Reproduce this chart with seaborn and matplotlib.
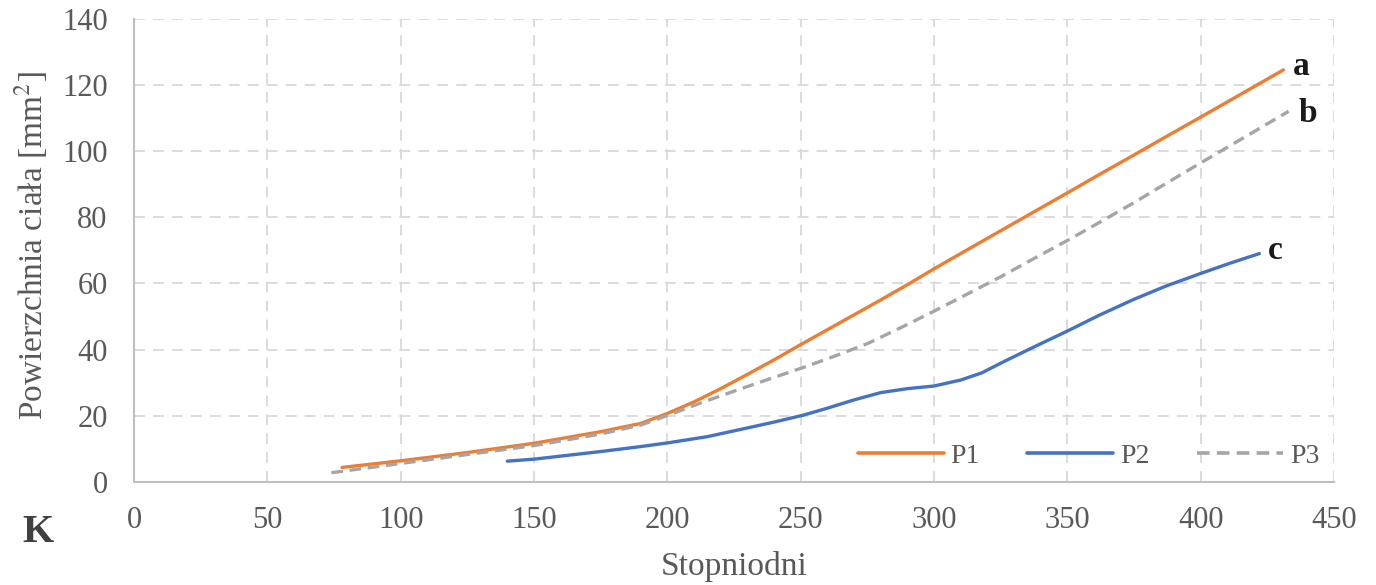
import matplotlib
matplotlib.use("Agg")
import matplotlib.pyplot as plt
import seaborn as sns
import pandas as pd

# ---- data ----
p1_x = [78, 100, 125, 150, 175, 190, 200, 210, 220, 230, 240, 250, 260, 270, 280, 290,
        300, 313, 325, 337, 351, 362, 375, 385, 401, 418, 431]
p1_y = [4.4, 6.4, 8.9, 11.7, 15.2, 17.7, 20.7, 24.2, 28.2, 32.5, 36.9, 41.5, 46.0, 50.5,
        55.0, 59.6, 64.4, 70.4, 75.9, 81.4, 87.8, 92.9, 98.8, 103.4, 110.7, 118.5, 124.5]

p2_x = [140, 150, 175, 190, 200, 215, 227, 240, 251, 260, 270, 280, 290, 300, 310, 318,
        326, 338, 350, 362, 375, 387, 400, 411, 422]
p2_y = [6.3, 6.9, 9.2, 10.7, 11.8, 13.7, 15.8, 18.1, 20.2, 22.3, 24.8, 27.0, 28.2, 29.0,
        30.8, 33.0, 36.3, 41.0, 45.6, 50.4, 55.2, 59.2, 63.0, 66.1, 69.0]

p3_x = [74, 100, 125, 150, 175, 190, 200, 215, 227, 240, 251, 262, 275, 288, 300, 313,
        325, 337, 351, 362, 375, 387, 400, 418, 433]
p3_y = [2.8, 5.6, 8.3, 11.0, 14.5, 17.2, 20.1, 24.6, 28.0, 31.6, 34.6, 37.8, 41.8, 46.8,
        51.6, 57.0, 62.0, 67.3, 73.4, 78.4, 84.4, 90.2, 96.4, 104.9, 112.0]

series_names = ["P1", "P2", "P3"]
end_labels = ["a", "c", "b"]
x_ticks = [0, 50, 100, 150, 200, 250, 300, 350, 400, 450]
y_ticks = [0, 20, 40, 60, 80, 100, 120, 140]
x_label = "Stopniodni"
y_label = "Powierzchnia ciała [mm$^2$]"
panel_label = "K"

colors = {"P1": "#ED7D31", "P2": "#4472C4", "P3": "#A5A5A5"}

df = pd.concat([
    pd.DataFrame({"x": p1_x, "y": p1_y, "series": "P1"}),
    pd.DataFrame({"x": p2_x, "y": p2_y, "series": "P2"}),
    pd.DataFrame({"x": p3_x, "y": p3_y, "series": "P3"}),
], ignore_index=True)

sns.set_theme(style="white")
plt.rcParams["font.family"] = ["Liberation Serif", "DejaVu Serif"]
plt.rcParams["mathtext.fontset"] = "stix"

fig = plt.figure(figsize=(13.76, 5.85), dpi=100)
ax = fig.add_axes([134 / 1376, 1 - 482 / 585, 1200 / 1376, (482 - 18.6) / 585])

sns.lineplot(data=df, x="x", y="y", hue="series", style="series",
             palette=colors, dashes={"P1": "", "P2": "", "P3": (3.5, 2)},
             linewidth=2.4, ax=ax, estimator=None, sort=True)
for ln in ax.get_lines():
    ln.set_solid_capstyle("round")
    ln.set_solid_joinstyle("round")

ax.set_xlim(0, 450)
ax.set_ylim(0, 140)
ax.set_xticks(x_ticks)
ax.set_yticks(y_ticks)

tick_color = "#595959"
ax.tick_params(axis="both", labelsize=22, colors=tick_color, length=0)
ax.tick_params(axis="x", pad=17)
ax.tick_params(axis="y", pad=19)

ax.grid(True, which="major", color="#D9D9D9", linestyle=(0, (6, 4.5)), linewidth=1.3)
for s in ["top", "right"]:
    ax.spines[s].set_visible(False)
for s in ["left", "bottom"]:
    ax.spines[s].set_color("#BFBFBF")
    ax.spines[s].set_linewidth(1.5)

ax.set_xlabel(x_label, fontsize=24, color=tick_color)
ax.set_ylabel(y_label, fontsize=24, color=tick_color)
ax.xaxis.label.set_va("center")
ax.yaxis.label.set_va("center")
ax.xaxis.set_label_coords(0.5, (482 - 566) / 463.4)
ax.yaxis.set_label_coords((31 - 134) / 1200, 0.51)

# end-of-line letters
ends = {"P1": (p1_x[-1], p1_y[-1]), "P2": (p2_x[-1], p2_y[-1]), "P3": (p3_x[-1], p3_y[-1])}
offsets = {"P1": (10, -5), "P2": (9, -5), "P3": (10, -11)}
for name, lab in zip(series_names, end_labels):
    ax.annotate(lab, xy=ends[name], xytext=offsets[name], textcoords="offset pixels",
                fontsize=24, fontweight="bold", color="#1a1a1a", va="baseline", ha="left")

handles, labels = ax.get_legend_handles_labels()
leg = ax.legend(handles, labels, ncol=3, loc="center right", bbox_to_anchor=(0.997, 0.056),
                frameon=False, fontsize=20, handlelength=3.1, handletextpad=0.25,
                columnspacing=1.7, borderaxespad=0)
for t in leg.get_texts():
    t.set_color(tick_color)
for h in leg.get_lines():
    h.set_linewidth(2.6)

fig.text(38 / 1376, 1 - 533 / 585, panel_label, fontsize=29, fontweight="bold",
         color="#404040", ha="center", va="center")

fig.savefig("out.png", dpi=100)
